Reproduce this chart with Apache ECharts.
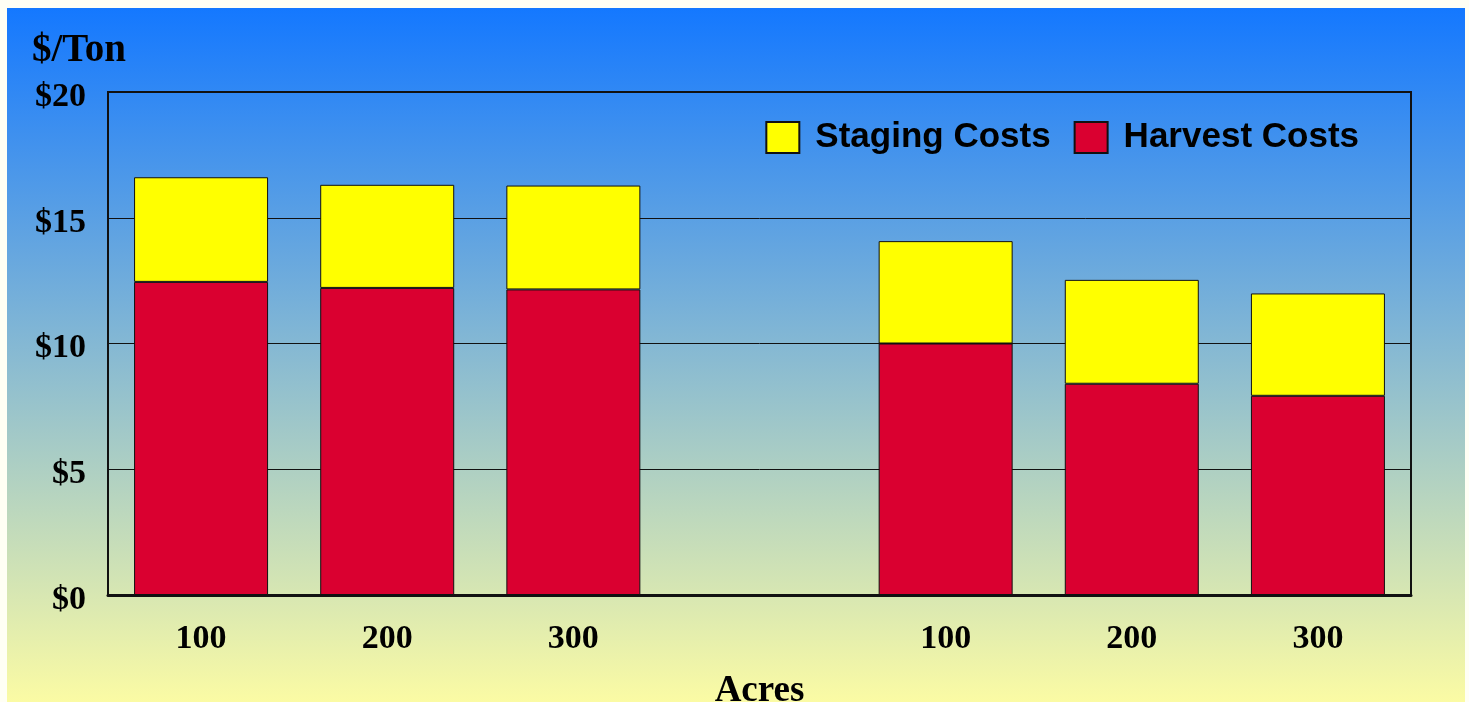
<!DOCTYPE html>
<html>
<head>
<meta charset="utf-8">
<script src="https://cdn.jsdelivr.net/npm/echarts@6/dist/echarts.min.js"></script>
<style>
  html, body { margin: 0; padding: 0; width: 1469px; height: 702px; background: #fffff4; overflow: hidden; }
  #chart {
    position: absolute; left: 7px; top: 8px; width: 1458px; height: 694px;
    background: linear-gradient(to bottom, #1478ff 0%, #88bad2 50%, #fbfba4 100%);
  }
</style>
</head>
<body>
<div id="chart"></div>
<script>
// Farm size groups (acres); the blank slot separates the two groups
const categories = ['100', '200', '300', '', '100', '200', '300'];
// Cost components in $/ton
const harvestCosts = [12.45, 12.21, 12.15, '-', 10.0, 8.40, 7.92];
const stagingCosts = [4.16, 4.10, 4.13, '-', 4.07, 4.13, 4.07];
const yTicks = [0, 5, 10, 15, 20];

const serif = '"Liberation Serif", "Times New Roman", serif';
const sans = '"Liberation Sans", Arial, sans-serif';

const chart = echarts.init(document.getElementById('chart'), null, { renderer: 'canvas' });
chart.setOption({
  backgroundColor: 'transparent',
  animation: false,
  title: {
    text: '$/Ton',
    left: 20, top: 18,
    textStyle: { fontFamily: serif, fontWeight: 'bold', fontSize: 39, color: '#000' }
  },
  legend: {
    data: ['Staging Costs', 'Harvest Costs'],
    right: 101, top: 107,
    itemWidth: 33, itemHeight: 31, itemGap: 23,
    icon: 'rect',
    textStyle: {
      fontFamily: sans, fontWeight: 'bold', fontSize: 35, color: '#000',
      padding: [0, 0, 0, 11], verticalAlign: 'top', lineHeight: 8
    }
  },
  grid: {
    left: 101, right: 54, top: 84, bottom: 107,
    outerBoundsMode: 'none',
    show: true, borderColor: '#111', borderWidth: 2
  },
  xAxis: {
    type: 'category',
    data: categories,
    name: 'Acres',
    nameLocation: 'middle',
    nameGap: 78,
    nameTextStyle: { fontFamily: serif, fontWeight: 'bold', fontSize: 37, color: '#000' },
    axisLine: { lineStyle: { color: '#111', width: 3 } },
    axisTick: { show: false },
    axisLabel: { fontFamily: serif, fontWeight: 'bold', fontSize: 34, color: '#000', margin: 27 }
  },
  yAxis: {
    type: 'value',
    min: yTicks[0], max: yTicks[yTicks.length - 1], interval: 5,
    axisLine: { show: false },
    axisTick: { show: false },
    splitLine: { lineStyle: { color: '#111', width: 1 } },
    axisLabel: {
      fontFamily: serif, fontWeight: 'bold', fontSize: 34, color: '#000', margin: 22,
      verticalAlign: 'top', lineHeight: 10,
      formatter: v => '$' + v
    }
  },
  series: [
    {
      name: 'Harvest Costs', type: 'bar', stack: 'cost',
      data: harvestCosts, barWidth: 134,
      itemStyle: { color: '#da0030', borderColor: '#111', borderWidth: 1 }
    },
    {
      name: 'Staging Costs', type: 'bar', stack: 'cost',
      data: stagingCosts, barWidth: 134,
      itemStyle: { color: '#ffff00', borderColor: '#111', borderWidth: 1 }
    }
  ]
});
</script>
</body>
</html>
